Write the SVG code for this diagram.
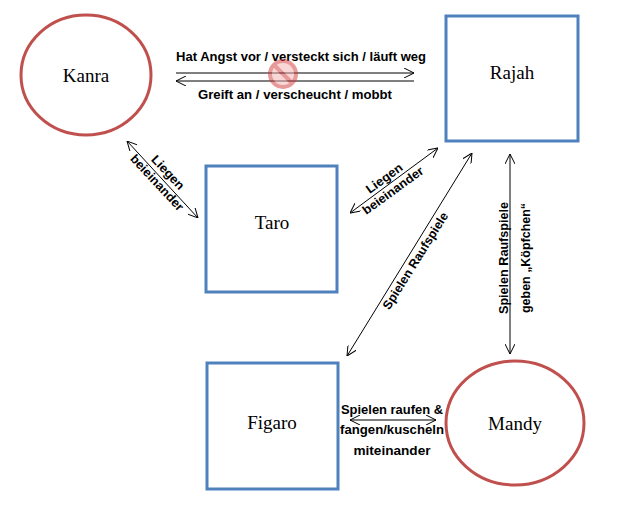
<svg xmlns="http://www.w3.org/2000/svg" width="639" height="519" viewBox="0 0 639 519">
<style>
.c{fill:#fff;stroke:#c0504d;stroke-width:3}
.r{fill:#fff;stroke:#4f81bd;stroke-width:3}
.n{font-family:"Liberation Serif",serif;font-size:19px;fill:#000;text-anchor:middle}
.l{font-family:"Liberation Sans",sans-serif;font-weight:bold;font-size:12.5px;fill:#000;text-anchor:middle}
.a{stroke:#000;stroke-width:1;fill:none}
</style>
<defs>
<marker id="h" viewBox="0 0 10 10" refX="10" refY="5" markerWidth="10" markerHeight="10" orient="auto-start-reverse" markerUnits="userSpaceOnUse"><path d="M0,0 L10,5 L0,10" fill="none" stroke="#000" stroke-width="1"/></marker>
</defs>
<rect width="639" height="519" fill="#fff"/>
<g id="kanra"><ellipse class="c" cx="86" cy="75" rx="65" ry="60"/><text class="n" x="86" y="82">Kanra</text></g>
<g id="rajah"><rect class="r" x="446" y="16" width="132" height="125"/><text class="n" x="512" y="79">Rajah</text></g>
<g id="taro"><rect class="r" x="206" y="166" width="131" height="126"/><text class="n" x="272" y="229">Taro</text></g>
<g id="figaro"><rect class="r" x="207" y="363" width="131" height="126"/><text class="n" x="272" y="429">Figaro</text></g>
<g id="mandy"><ellipse class="c" cx="515" cy="423" rx="69" ry="62"/><text class="n" x="515" y="430">Mandy</text></g>
<g id="connectors">
<line class="a" x1="176" y1="73" x2="414" y2="73" marker-end="url(#h)"/>
<line class="a" x1="176" y1="81" x2="414" y2="81" marker-start="url(#h)"/>
<line class="a" x1="127" y1="141" x2="198" y2="218" marker-start="url(#h)" marker-end="url(#h)"/>
<line class="a" x1="350" y1="213" x2="438" y2="148" marker-start="url(#h)" marker-end="url(#h)"/>
<line class="a" x1="472" y1="153" x2="347" y2="356" marker-start="url(#h)" marker-end="url(#h)"/>
<line class="a" x1="510" y1="154" x2="510" y2="354" marker-start="url(#h)" marker-end="url(#h)"/>
<line class="a" x1="350" y1="420" x2="436" y2="420" marker-start="url(#h)" marker-end="url(#h)"/>
</g>
<g id="labels">
<text class="l" x="301" y="61" textLength="250" lengthAdjust="spacingAndGlyphs">Hat Angst vor / versteckt sich / läuft weg</text>
<text class="l" x="295" y="99" textLength="194" lengthAdjust="spacingAndGlyphs">Greift an / verscheucht / mobbt</text>
<g opacity="0.5"><circle cx="283" cy="74" r="13" fill="#f6b0b0" stroke="#d03838" stroke-width="4"/><line x1="274" y1="65" x2="292" y2="83" stroke="#d03838" stroke-width="4"/></g>
<g transform="translate(162,178) rotate(47)"><text class="l" x="0" y="-4" textLength="42" lengthAdjust="spacingAndGlyphs">Liegen</text><text class="l" x="0" y="11" textLength="72" lengthAdjust="spacingAndGlyphs">beieinander</text></g>
<g transform="translate(389,185) rotate(-36)"><text class="l" x="0" y="-4" textLength="42" lengthAdjust="spacingAndGlyphs">Liegen</text><text class="l" x="0" y="11" textLength="72" lengthAdjust="spacingAndGlyphs">beieinander</text></g>
<g transform="translate(419,263) rotate(-58)"><text class="l" x="0" y="0" textLength="112" lengthAdjust="spacingAndGlyphs">Spielen Raufspiele</text></g>
<g transform="translate(508,258) rotate(-90)"><text class="l" x="0" y="0" textLength="112" lengthAdjust="spacingAndGlyphs">Spielen Raufspiele</text><text class="l" x="0" y="22" textLength="110" lengthAdjust="spacingAndGlyphs">geben „Köpfchen“</text></g>
<text class="l" x="392" y="414" textLength="102" lengthAdjust="spacingAndGlyphs">Spielen raufen &amp;</text>
<text class="l" x="392" y="434" textLength="104" lengthAdjust="spacingAndGlyphs">fangen/kuscheln</text>
<text class="l" x="392" y="455" textLength="77" lengthAdjust="spacingAndGlyphs">miteinander</text>
</g>
</svg>
